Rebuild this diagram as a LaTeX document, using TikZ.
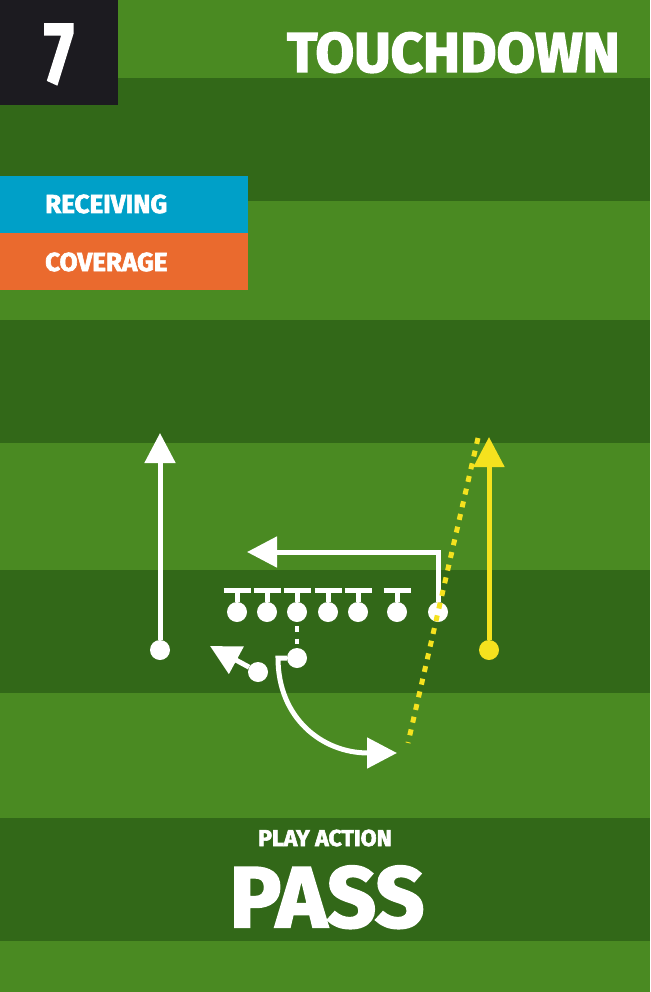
\documentclass[tikz,border=0pt]{standalone}
\usepackage{fontspec}
\newfontfamily\playfont{Fira Sans Bold}[FakeBold=2.5]
\usetikzlibrary{arrows.meta}

\definecolor{grasslight}{RGB}{74,138,34}
\definecolor{grassdark}{RGB}{50,104,24}
\definecolor{boxblack}{RGB}{28,27,32}
\definecolor{recblue}{RGB}{0,160,200}
\definecolor{covorange}{RGB}{234,106,46}
\definecolor{routeyellow}{RGB}{245,226,30}

\begin{document}
\begin{tikzpicture}[
        x=1pt, y=-1pt,
        % Players (filled circles)
        player/.style={circle, fill=white, inner sep=0pt, minimum size=20pt},
        % Routes with big triangle heads
        route/.style={draw=white, line width=5pt,
            -{Triangle[length=30pt, width=30pt]}},
        % Block marks above the linemen
        block/.style={draw=white, line width=5pt},
        snapline/.style={draw=white, line width=4.5pt,
            dash pattern=on 5.5pt off 7pt, dash phase=8.5pt},
        coverline/.style={draw=routeyellow, line width=5pt,
            dash pattern=on 6pt off 7pt},
        % Texts
        headtext/.style={text=white, inner sep=0pt,
            font=\playfont\fontsize{56}{56}\selectfont},
        tagtext/.style={text=white, inner sep=0pt, anchor=base west,
            font=\playfont\fontsize{26}{26}\selectfont}
    ]

        % 1. Field
        \useasboundingbox (0,0) rectangle (650,992);
        \fill[grasslight] (0,0) rectangle (650,992);
        \foreach \y in {78,320,570,818}
            \fill[grassdark] (0,\y) rectangle (650,\y+123);

        % 2. Header
        \fill[boxblack] (0,0) rectangle (118,105);
        \node[headtext, anchor=base, font=\playfont\fontsize{87}{87}\selectfont]
            (number) at (59,83) {\scalebox{0.73}[1]{7}};
        \node[headtext, anchor=base east] (title) at (620,72) {TOUCHDOWN};

        % 3. Legend
        \fill[recblue]    (0,176) rectangle (248,233);
        \fill[covorange]  (0,233) rectangle (248,290);
        \node[tagtext] (receiving) at (45,213) {RECEIVING};
        \node[tagtext] (coverage)  at (45,271) {COVERAGE};

        % 4. Players
        \foreach \x [count=\i] in {237,267,297,328,358,397}
            \node[player] (ol\i) at (\x,612) {};
        \node[player] (te) at (438,612) {};
        \node[player] (qb) at (297,658) {};
        \node[player] (rb) at (258,672) {};
        \node[player] (lr) at (160,650) {};
        \node[player, fill=routeyellow] (yr) at (489,650) {};

        % Block marks
        \foreach \i in {1,...,6}
            \draw[block] (ol\i.north) -- ++(0,-11) ++(-13.5,0) -- ++(27,0);

        % 5. Route ends
        \coordinate (lrend)    at (160,433);
        \coordinate (yrend)    at (489,437);
        \coordinate (teend)    at (247,552);
        \coordinate (rbend)    at (210,646);
        \coordinate (qbturn)   at (278,658);
        \coordinate (swingend) at (397,753);
        \coordinate (cvtop)    at (478,438);
        \coordinate (cvbot)    at (408,743);

        % 6. Routes
        \draw[snapline] (ol3) -- (qb);
        \draw[route] (lr) -- (lrend);
        \draw[route] (te) |- (teend);
        \draw[route] (rb) -- (rbend);
        \draw[route] (qb.west) -- (qbturn)
            .. controls +(0,60) and +(-75,0) .. (swingend);
        \draw[route, draw=routeyellow] (yr) -- (yrend);

        % 7. Coverage
        \draw[coverline] (cvtop) -- (cvbot);

        % 8. Play name
        \node[headtext, anchor=base, font=\playfont\fontsize{23}{23}\selectfont]
            (playtype) at (325,846) {PLAY ACTION};
        \node[headtext, anchor=base, font=\playfont\fontsize{86}{86}\selectfont]
            (playname) at (327,927) {PASS};

    \end{tikzpicture}
\end{document}
